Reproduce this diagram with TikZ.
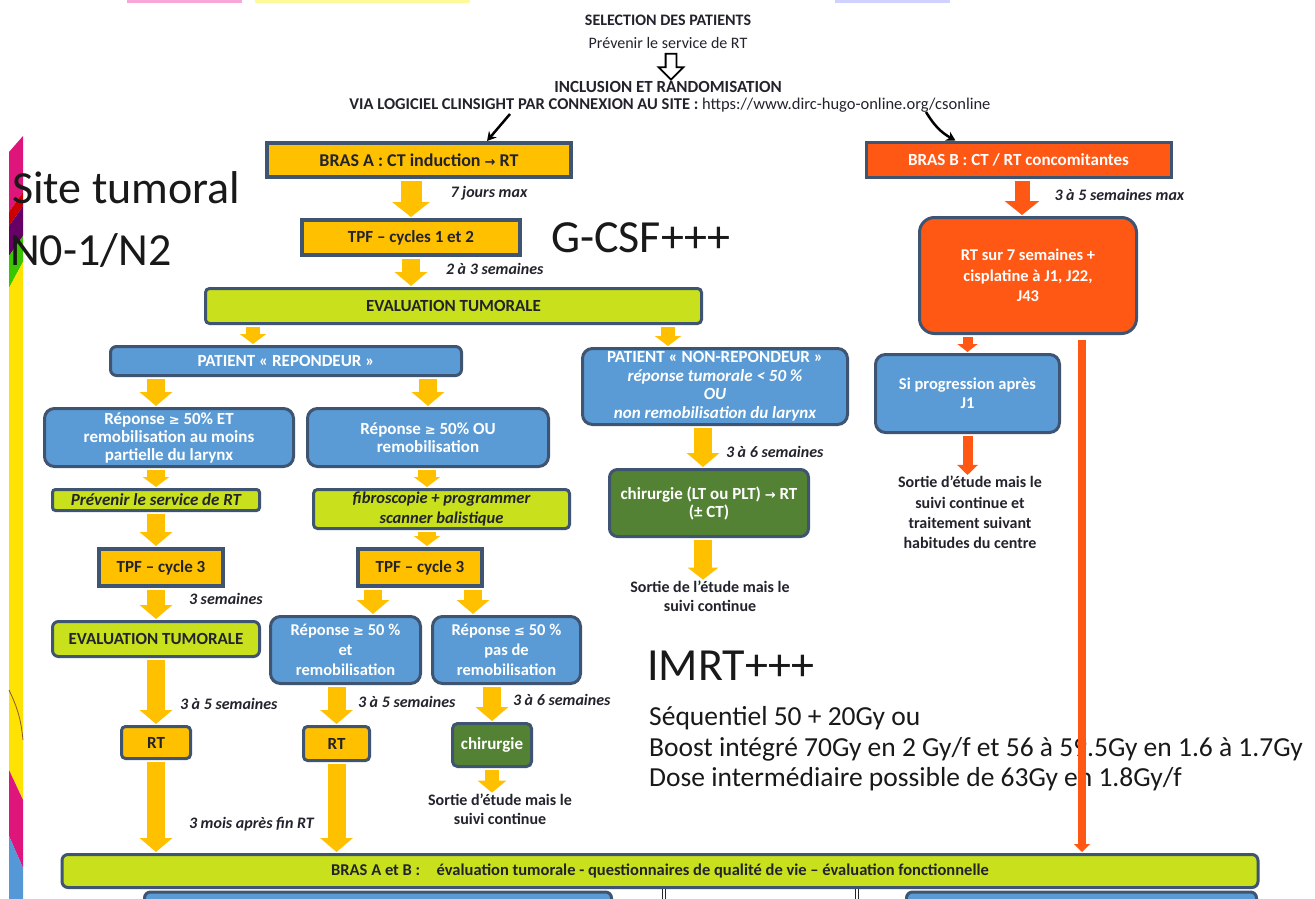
\documentclass[tikz,border=0pt]{standalone}
\usepackage{fontspec}
\setmainfont{Carlito}
\newfontfamily\symfnt{DejaVu Sans}
\usetikzlibrary{shapes,arrows,arrows.meta,positioning,calc}

\definecolor{jaune}{RGB}{255,192,0}
\definecolor{citron}{RGB}{200,225,28}
\definecolor{bleu}{RGB}{91,155,213}
\definecolor{rouge}{RGB}{255,87,20}
\definecolor{vert}{RGB}{84,130,53}
\definecolor{bord}{RGB}{62,84,112}
\definecolor{encre}{RGB}{35,35,45}
\definecolor{noir}{RGB}{25,25,25}

\newcommand{\fleche}{{\symfnt\fontsize{13}{13}\selectfont →}}
\newcommand{\supeg}{{\symfnt\fontsize{13}{13}\selectfont ≥}}
\newcommand{\infeg}{{\symfnt\fontsize{13}{13}\selectfont ≤}}

\begin{document}
\begin{tikzpicture}[x=1pt,y=-1pt]

		% Styles for the boxes
		\tikzstyle{boite}=[draw=bord,line width=3pt,align=center,inner sep=0pt,font=\bfseries\fontsize{17}{18}\selectfont]
		\tikzstyle{jaune box}=[boite,fill=jaune,text=encre,line width=4pt]
		\tikzstyle{citron box}=[boite,fill=citron,text=encre,rounded corners=4pt]
		\tikzstyle{bleu box}=[boite,fill=bleu,text=white,rounded corners=10pt]
		\tikzstyle{rouge box}=[boite,fill=rouge,text=white]
		\tikzstyle{vert box}=[boite,fill=vert,text=white,rounded corners=8pt]
		\tikzstyle{texte}=[align=center,inner sep=0pt,text=encre,font=\bfseries\fontsize{16}{18.5}\selectfont]
		\tikzstyle{etiq}=[inner sep=0pt,text=encre,font=\bfseries\itshape\fontsize{16}{17}\selectfont]
		\tikzstyle{grand}=[inner sep=0pt,anchor=base west,text=noir,font=\fontsize{46}{50}\selectfont]
		\tikzstyle{moyen}=[inner sep=0pt,anchor=base west,text=noir,font=\fontsize{27.5}{30}\selectfont]
		\tikzstyle{fleche jaune}=[draw=jaune,line width=18pt,-{Triangle[width=32pt,length=14pt]},shorten <=2pt,shorten >=1pt]
		\tikzstyle{fleche rouge}=[draw=rouge,line width=15pt,-{Triangle[width=34pt,length=14pt]},shorten <=2pt,shorten >=1pt]
		\tikzstyle{fleche noire}=[draw=black,line width=2.5pt,-{Stealth[length=9pt,width=10pt]}]

		\useasboundingbox (0,0) rectangle (1315,899);
		\clip (0,0) rectangle (1315,899);
		\fill[white] (0,0) rectangle (1315,899);

		% Slide decoration (left band, cut title)
		\fill[magenta!70!purple] (9,152) -- (23,136) -- (23,192) -- (9,212) -- cycle;
		\fill[red!80!black] (9,212) -- (23,192) -- (23,206) -- (9,226) -- cycle;
		\fill[violet!80!black] (9,226) -- (23,206) -- (23,236) -- (9,256) -- cycle;
		\fill[green!55!olive] (9,256) -- (23,236) -- (23,262) -- (9,288) -- cycle;
		\fill[yellow!85!orange] (9,288) -- (23,262) -- (23,800) -- (9,770) -- cycle;
		\fill[magenta!70!purple] (9,770) -- (23,800) -- (23,868) -- (9,836) -- cycle;
		\fill[cyan!60!blue!70] (9,836) -- (23,868) -- (23,899) -- (9,899) -- cycle;
		\draw[brown!70!black,line width=0.8pt] (9,690) to[bend left=10] (23,740);
		\fill[magenta!35] (127,0) rectangle (242,3);
		\fill[yellow!40] (255,0) rectangle (470,3);
		\fill[blue!18] (835,0) rectangle (950,3);

		% Header
		\node[texte] (sel) at (668,20) {SELECTION DES PATIENTS};
		\node[texte,font=\fontsize{16}{18}\selectfont] (prev) at (668,43) {Prévenir le service de RT};
		\node[single arrow,draw=black,fill=white,line width=1.8pt,shape border rotate=270,
			minimum height=26pt,inner sep=4.5pt,single arrow head extend=7pt] (ouvert) at (671,64) {};
		\node[texte,font=\bfseries\fontsize{17}{18}\selectfont] (incl) at (668,87) {INCLUSION ET RANDOMISATION};
		\node[texte,font=\bfseries\fontsize{16.5}{18}\selectfont] (via) at (670,105) {VIA LOGICIEL CLINSIGHT PAR CONNEXION AU SITE : {\mdseries https://www.dirc-hugo-online.org/csonline}};
		\coordinate (va) at (510,114);
		\coordinate (vb) at (926,112);

		% Big annotations
		\node[grand] (site) at (12,203) {Site tumoral};
		\node[grand] (stade) at (10,265) {N0-1/N2};
		\node[grand] (gcsf) at (551,252) {G-CSF+++};
		\node[grand] (imrt) at (647,680) {IMRT+++};
		\node[moyen] (seq) at (649,725) {Séquentiel 50 + 20Gy ou};
		\node[moyen] (boost) at (649,756) {Boost intégré 70Gy en 2 Gy/f et 56 à 59.5Gy en 1.6 à 1.7Gy};
		\node[moyen] (dose) at (649,786) {Dose intermédiaire possible de 63Gy en 1.8Gy/f};

		% Arm A
		\node[jaune box,minimum width=304pt,minimum height=34pt,font=\bfseries\fontsize{18}{19}\selectfont] (brasA) at (419,160) {BRAS A : CT induction \fleche{} RT};
		\node[jaune box,minimum width=218pt,minimum height=35pt] (tpf) at (411,237.5) {TPF -- cycles 1 et 2};
		\node[citron box,minimum width=496pt,minimum height=35pt] (eval) at (453.5,306) {EVALUATION TUMORALE};
		\node[bleu box,rounded corners=6pt,minimum width=351pt,minimum height=29pt] (rep) at (286,361) {PATIENT « REPONDEUR »};
		\node[bleu box,minimum width=265pt,minimum height=76pt] (nonrep) at (715,386.5) {PATIENT « NON-REPONDEUR »\\[0.5pt]\itshape réponse tumorale < 50 \%\\[0.5pt]\itshape OU\\[0.5pt]\itshape non remobilisation du larynx};
		\node[bleu box,minimum width=249pt,minimum height=58pt] (r1) at (169,437.5) {Réponse \supeg{} 50\% ET\\remobilisation au moins\\partielle du larynx};
		\node[bleu box,minimum width=241pt,minimum height=58pt] (r2) at (428,437.5) {Réponse \supeg{} 50\% OU\\remobilisation};
		\node[citron box,rounded corners=3pt,minimum width=207pt,minimum height=21pt,font=\bfseries\itshape\fontsize{17}{17}\selectfont] (prevRT) at (156,500) {Prévenir le service de RT};
		\node[citron box,minimum width=256pt,minimum height=39pt,font=\bfseries\itshape\fontsize{16.5}{20}\selectfont] (fibro) at (441.5,509) {fibroscopie + programmer\\scanner balistique};
		\node[jaune box,minimum width=124pt,minimum height=37pt] (tpf3a) at (161,567.5) {TPF -- cycle 3};
		\node[jaune box,minimum width=124pt,minimum height=37pt] (tpf3b) at (420,567.5) {TPF -- cycle 3};
		\node[citron box,rounded corners=6pt,minimum width=207pt,minimum height=35pt] (evalL) at (156,639) {EVALUATION TUMORALE};
		\node[bleu box,font=\bfseries\fontsize{16.5}{20}\selectfont,minimum width=150pt,minimum height=67pt] (r3) at (345.5,650) {Réponse \supeg{} 50 \%\\et\\remobilisation};
		\node[bleu box,font=\bfseries\fontsize{16.5}{20}\selectfont,minimum width=148pt,minimum height=67pt] (r4) at (506.5,650) {Réponse \infeg{} 50 \%\\pas de\\remobilisation};
		\node[jaune box,line width=3pt,rounded corners=4pt,minimum width=69pt,minimum height=32pt] (rtL) at (156,742.5) {RT};
		\node[jaune box,line width=3pt,rounded corners=4pt,minimum width=66pt,minimum height=34pt] (rtM) at (336.5,743.5) {RT};
		\node[vert box,rounded corners=5pt,minimum width=79pt,minimum height=43pt] (chir) at (492,745) {chirurgie};
		\node[texte] (sortieM) at (500,809) {Sortie d'étude mais le\\suivi continue};
		\node[vert box,minimum width=199pt,minimum height=67pt] (chirLT) at (709,503) {chirurgie (LT ou PLT) \fleche{} RT\\(± CT)};
		\node[texte] (sortieN) at (710,596) {Sortie de l'étude mais le\\suivi continue};

		% Arm B
		\node[rouge box,minimum width=305pt,minimum height=35pt] (brasB) at (1018.5,159.5) {BRAS B : CT / RT concomitantes};
		\node[rouge box,rounded corners=15pt,minimum width=217pt,minimum height=116pt,font=\bfseries\fontsize{16.5}{20.5}\selectfont] (rtb) at (1028,275.5) {RT sur 7 semaines +\\cisplatine à J1, J22,\\J43};
		\node[bleu box,font=\bfseries\fontsize{16.5}{19.5}\selectfont,minimum width=184pt,minimum height=78pt] (siprog) at (967.5,393.5) {Si progression après\\J1};
		\node[texte,font=\bfseries\fontsize{16}{20.3}\selectfont] (sortieB) at (970,512.5) {Sortie d'étude mais le\\suivi continue et\\traitement suivant\\habitudes du centre};

		% Common end
		\node[citron box,rounded corners=6pt,minimum width=1196pt,minimum height=33pt,font=\bfseries\fontsize{16.5}{17}\selectfont] (bas) at (660,871) {BRAS A et B :\quad évaluation tumorale - questionnaires de qualité de vie -- évaluation fonctionnelle};
		\node[bleu box,rounded corners=6pt,minimum width=467pt,minimum height=30pt] (suiteA) at (378,907) {};
		\node[bleu box,rounded corners=6pt,minimum width=350pt,minimum height=30pt] (suiteB) at (1081.5,907) {};
		\coordinate (fin1) at (664,899);
		\coordinate (fin2) at (857,899);

		% Transitions
		\draw[fleche noire] (va) -- ([xshift=68pt]brasA.north);
		\draw[fleche noire] (vb) to[bend right=15] ([xshift=-63pt]brasB.north);

		\draw[fleche jaune,line width=21pt,-{Triangle[width=37pt,length=15pt]}] (brasA.south -| tpf.north) -- (tpf.north)
			node[etiq,pos=0.37,right=29pt] {7 jours max};
		\draw[fleche jaune] (tpf.south) -- (tpf.south |- eval.north)
			node[etiq,pos=0.39,right=26pt] {2 à 3 semaines};
		\draw[fleche jaune,line width=14pt,-{Triangle[width=26pt,length=10pt]}] ([xshift=-33pt]rep.north |- eval.south) -- ([xshift=-33pt]rep.north);
		\draw[fleche jaune,line width=14pt,-{Triangle[width=26pt,length=10pt]}] ([xshift=-47pt]nonrep.north |- eval.south) -- ([xshift=-47pt]nonrep.north);
		\draw[fleche jaune] ([xshift=-13pt]r1.north |- rep.south) -- ([xshift=-13pt]r1.north);
		\draw[fleche jaune] (r2.north |- rep.south) -- (r2.north);
		\draw[fleche jaune,-{Triangle[width=26pt,length=10pt]}] (prevRT.north |- r1.south) -- (prevRT.north);
		\draw[fleche jaune,-{Triangle[width=26pt,length=10pt]}] ([xshift=-14.5pt]fibro.north |- r2.south) -- ([xshift=-14.5pt]fibro.north);
		\draw[fleche jaune] (prevRT.south) -- (prevRT.south |- tpf3a.north);
		\draw[fleche jaune,-{Triangle[width=26pt,length=10pt]}] ([xshift=7pt]tpf3b.north |- fibro.south) -- ([xshift=7pt]tpf3b.north);
		\draw[fleche jaune] (evalL.north |- tpf3a.south) -- (evalL.north)
			node[etiq,pos=0.34,right=24pt] {3 semaines};
		\draw[fleche jaune] ([xshift=27.5pt]r3.north |- tpf3b.south) -- ([xshift=27.5pt]r3.north);
		\draw[fleche jaune] ([xshift=-33.5pt]r4.north |- tpf3b.south) -- ([xshift=-33.5pt]r4.north);
		\draw[fleche jaune] (evalL.south) -- (rtL.north)
			node[etiq,pos=0.69,right=15pt] {3 à 5 semaines};
		\draw[fleche jaune] (rtM.north |- r3.south) -- (rtM.north)
			node[etiq,pos=0.43,right=12.5pt] {3 à 5 semaines};
		\draw[fleche jaune] (chir.north |- r4.south) -- (chir.north)
			node[etiq,pos=0.41,right=12pt] {3 à 6 semaines};
		\draw[fleche jaune,line width=14pt,-{Triangle[width=28pt,length=12pt]}] (chir.south) -- (chir.south |- sortieM.north);
		\draw[fleche jaune] ([xshift=-6pt]chirLT.north |- nonrep.south) -- ([xshift=-6pt]chirLT.north)
			node[etiq,pos=0.61,right=14pt] {3 à 6 semaines};
		\draw[fleche jaune,-{Triangle[width=30pt,length=12pt]}] ([xshift=-6pt]chirLT.south) -- ([xshift=-6pt]chirLT.south |- sortieN.north);
		\draw[fleche jaune] (rtL.south) -- (rtL.south |- bas.north)
			node[etiq,pos=0.69,right=24pt] {3 mois après fin RT};
		\draw[fleche jaune] (rtM.south) -- (rtM.south |- bas.north);

		\draw[fleche rouge] ([xshift=-6pt]rtb.north |- brasB.south) -- ([xshift=-6pt]rtb.north)
			node[etiq,pos=0.44,right=25pt] {3 à 5 semaines max};
		\draw[fleche rouge,line width=10pt,-{Triangle[width=20pt,length=8pt]}] (siprog.north |- rtb.south) -- (siprog.north);
		\draw[fleche rouge,line width=10pt,-{Triangle[width=20pt,length=10pt]}] (siprog.south) -- (siprog.south |- sortieB.north);
		\draw[fleche rouge,line width=8pt,-{Triangle[width=16pt,length=8pt]},shorten <=5pt] ([xshift=54pt]rtb.south) -- ([xshift=54pt]rtb.south |- bas.north);

		\draw[draw=encre,line width=1pt,double=white,double distance=2.5pt] (bas.south -| fin1) -- (fin1);
		\draw[draw=encre,line width=1pt,double=white,double distance=2.5pt] (bas.south -| fin2) -- (fin2);

	\end{tikzpicture}
\end{document}
